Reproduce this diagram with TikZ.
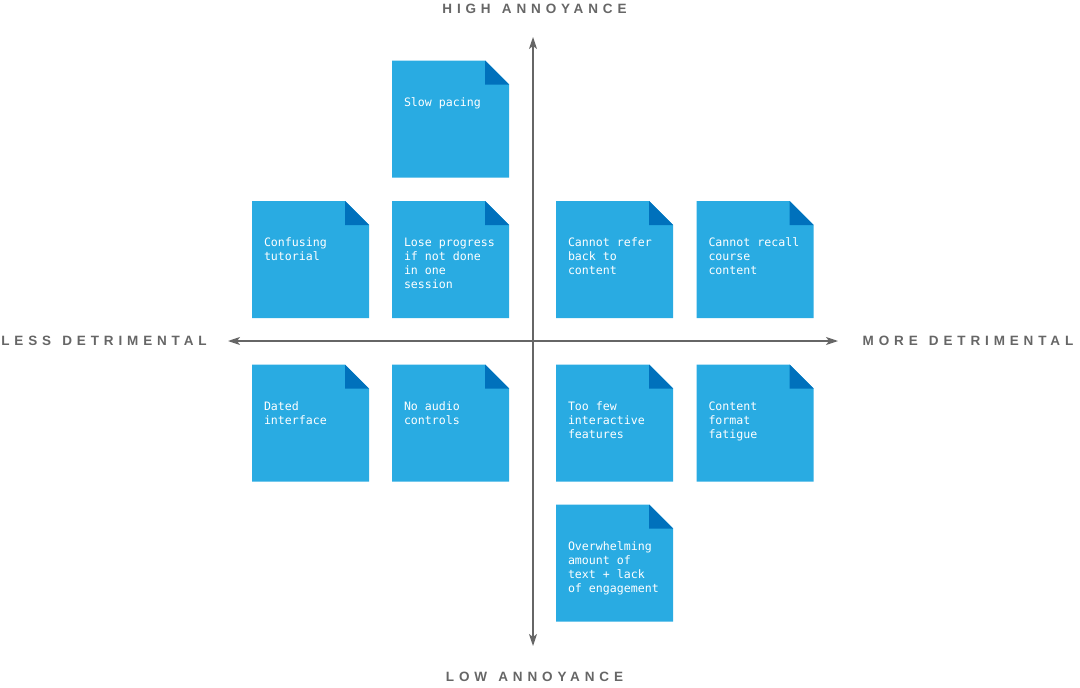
\documentclass[tikz,border=0pt]{standalone}
\usepackage{fontspec}
\usepackage{tikz}
\usetikzlibrary{arrows.meta, positioning}
\newfontfamily\notefont{DejaVu Sans Mono}
\newfontfamily\axisfont{Liberation Sans}[LetterSpace=36, WordSpace=1.3]
\definecolor{noteblue}{HTML}{29ABE2}
\definecolor{notedark}{HTML}{0071BC}
\definecolor{axisgray}{HTML}{666666}

\begin{document}
\begin{tikzpicture}[
    x=1pt, y=-1pt,
    note/.style={rectangle, draw=none, fill=none, inner sep=0pt,
        minimum width=117pt, minimum height=117pt,
        path picture={
            \fill[noteblue] (path picture bounding box.south west)
                -- (path picture bounding box.north west)
                -- ([xshift=-24pt]path picture bounding box.north east)
                -- ([yshift=-24pt]path picture bounding box.north east)
                -- (path picture bounding box.south east) -- cycle;
            \fill[notedark] ([xshift=-24pt]path picture bounding box.north east)
                -- ++(24pt,-24pt) -- ++(-24pt,0pt) -- cycle;
        }},
    notetext/.style={anchor=north west, inner sep=0pt, align=left, text=white,
        font={\notefont\fontsize{11.6}{14}\selectfont}},
    axislabel/.style={text=axisgray, inner sep=0pt,
        font={\axisfont\bfseries\fontsize{13.5}{15}\selectfont}},
    axis/.style={draw=axisgray, line width=1.3pt,
        {Stealth[length=12pt, width=8pt, inset=3pt]}-{Stealth[length=12pt, width=8pt, inset=3pt]}}
]
\useasboundingbox (0,0) rectangle (1080,688);

% axes
\coordinate (Top) at (533,37);
\coordinate (Bottom) at (533,646);
\coordinate (Left) at (228,341);
\coordinate (Right) at (838,341);
\draw[axis] (Top) -- (Bottom);
\draw[axis] (Left) -- (Right);

\node (High) [axislabel] at (534.5,9) {HIGH ANNOYANCE};
\node (Low) [axislabel] at (534.5,677) {LOW ANNOYANCE};
\node (Less) [axislabel] at (104,341) {LESS DETRIMENTAL};
\node (More) [axislabel] at (968,341) {MORE DETRIMENTAL};

% notes
\node (N01) [note] at (450.5,119) {};
\node (T01) [notetext] at ([shift={(12pt,-37pt)}]N01.north west) {Slow pacing};

\node (N02) [note] at (310.5,259.5) {};
\node (T02) [notetext] at ([shift={(12pt,-37pt)}]N02.north west) {Confusing\\tutorial};
\node (N03) [note] at (450.5,259.5) {};
\node (T03) [notetext] at ([shift={(12pt,-37pt)}]N03.north west) {Lose progress\\if not done\\in one\\session};
\node (N04) [note] at (614.5,259.5) {};
\node (T04) [notetext] at ([shift={(12pt,-37pt)}]N04.north west) {Cannot refer\\back to\\content};
\node (N05) [note] at (755,259.5) {};
\node (T05) [notetext] at ([shift={(12pt,-37pt)}]N05.north west) {Cannot recall\\course\\content};

\node (N06) [note] at (310.5,423) {};
\node (T06) [notetext] at ([shift={(12pt,-37pt)}]N06.north west) {Dated\\interface};
\node (N07) [note] at (450.5,423) {};
\node (T07) [notetext] at ([shift={(12pt,-37pt)}]N07.north west) {No audio\\controls};
\node (N08) [note] at (614.5,423) {};
\node (T08) [notetext] at ([shift={(12pt,-37pt)}]N08.north west) {Too few\\interactive\\features};
\node (N09) [note] at (755,423) {};
\node (T09) [notetext] at ([shift={(12pt,-37pt)}]N09.north west) {Content\\format\\fatigue};

\node (N10) [note] at (614.5,563) {};
\node (T10) [notetext] at ([shift={(12pt,-37pt)}]N10.north west) {Overwhelming\\amount of\\text + lack\\of engagement};

\end{tikzpicture}
\end{document}
